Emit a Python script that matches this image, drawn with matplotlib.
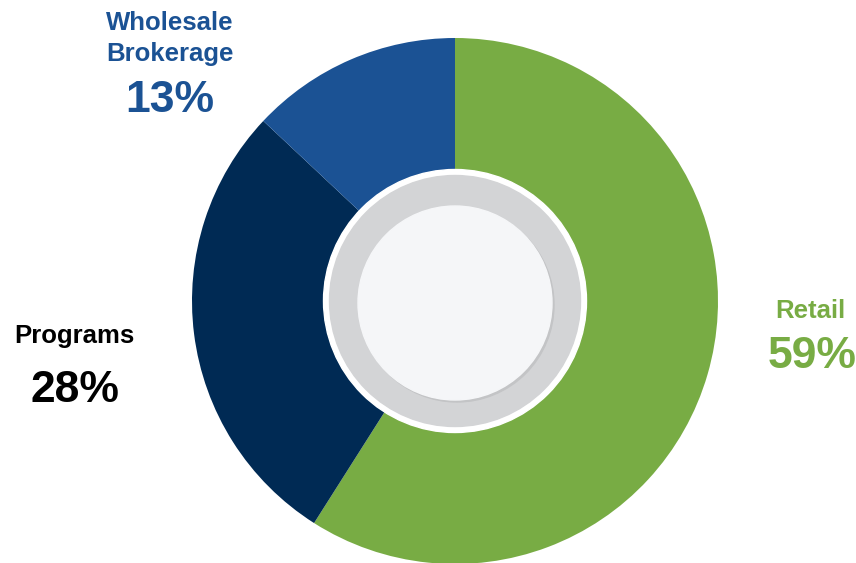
import matplotlib

matplotlib.use("Agg")

import matplotlib.pyplot as plt
from matplotlib.patches import Circle

# segment data, clockwise from 12 o'clock
SEGMENTS = ["Retail", "Programs", "Wholesale\nBrokerage"]
SHARES = [59, 28, 13]
COLORS = ["#78AC44", "#002A54", "#1B5294"]
LABEL_COLORS = ["#78AC44", "#000000", "#1B5294"]

W, H = 856, 563
CX, CY = 455, H - 301
R_OUTER = 263

plt.rcParams["font.family"] = ["Liberation Sans", "DejaVu Sans"]

fig = plt.figure(figsize=(W / 100, H / 100), dpi=100)
ax = fig.add_axes([0, 0, 1, 1])

ax.pie(
    SHARES,
    colors=COLORS,
    center=(CX, CY),
    radius=R_OUTER,
    startangle=90,
    counterclock=False,
    wedgeprops=dict(linewidth=0),
    frame=True,
)
ax.set_xlim(0, W)
ax.set_ylim(0, H)
ax.set_aspect("equal")
ax.axis("off")

# center decoration: white rim, gray ring, shadow, light disc
ax.add_patch(Circle((CX, CY), 131.5, color="white", zorder=3))
ax.add_patch(Circle((CX, CY), 125.5, color="#D3D4D6", zorder=4))
ax.add_patch(Circle((CX + 2, CY - 4), 97, color="#C3C4C6", zorder=5))
ax.add_patch(Circle((CX, CY - 2), 97, color="#F5F6F8", zorder=6))

# label anchors: name x, first baseline y, pct x, pct baseline y (pixels from top)
label_pos = {
    "Retail": (810, 318, 812, 368),
    "Programs": (74, 343, 75, 402),
    "Wholesale\nBrokerage": (170, 30, 170, 112),
}
for name, share, lc in zip(SEGMENTS, SHARES, LABEL_COLORS):
    nx, ny, px, py = label_pos[name]
    for i, line in enumerate(name.split("\n")):
        ax.text(nx, H - (ny + i * 31), line, ha="center", va="baseline",
                fontsize=18.5, fontweight="bold", color=lc, zorder=7)
    ax.text(px, H - py, f"{share}%", ha="center", va="baseline",
            fontsize=32, fontweight="bold", color=lc, zorder=7)

fig.savefig("out.png", dpi=100)
